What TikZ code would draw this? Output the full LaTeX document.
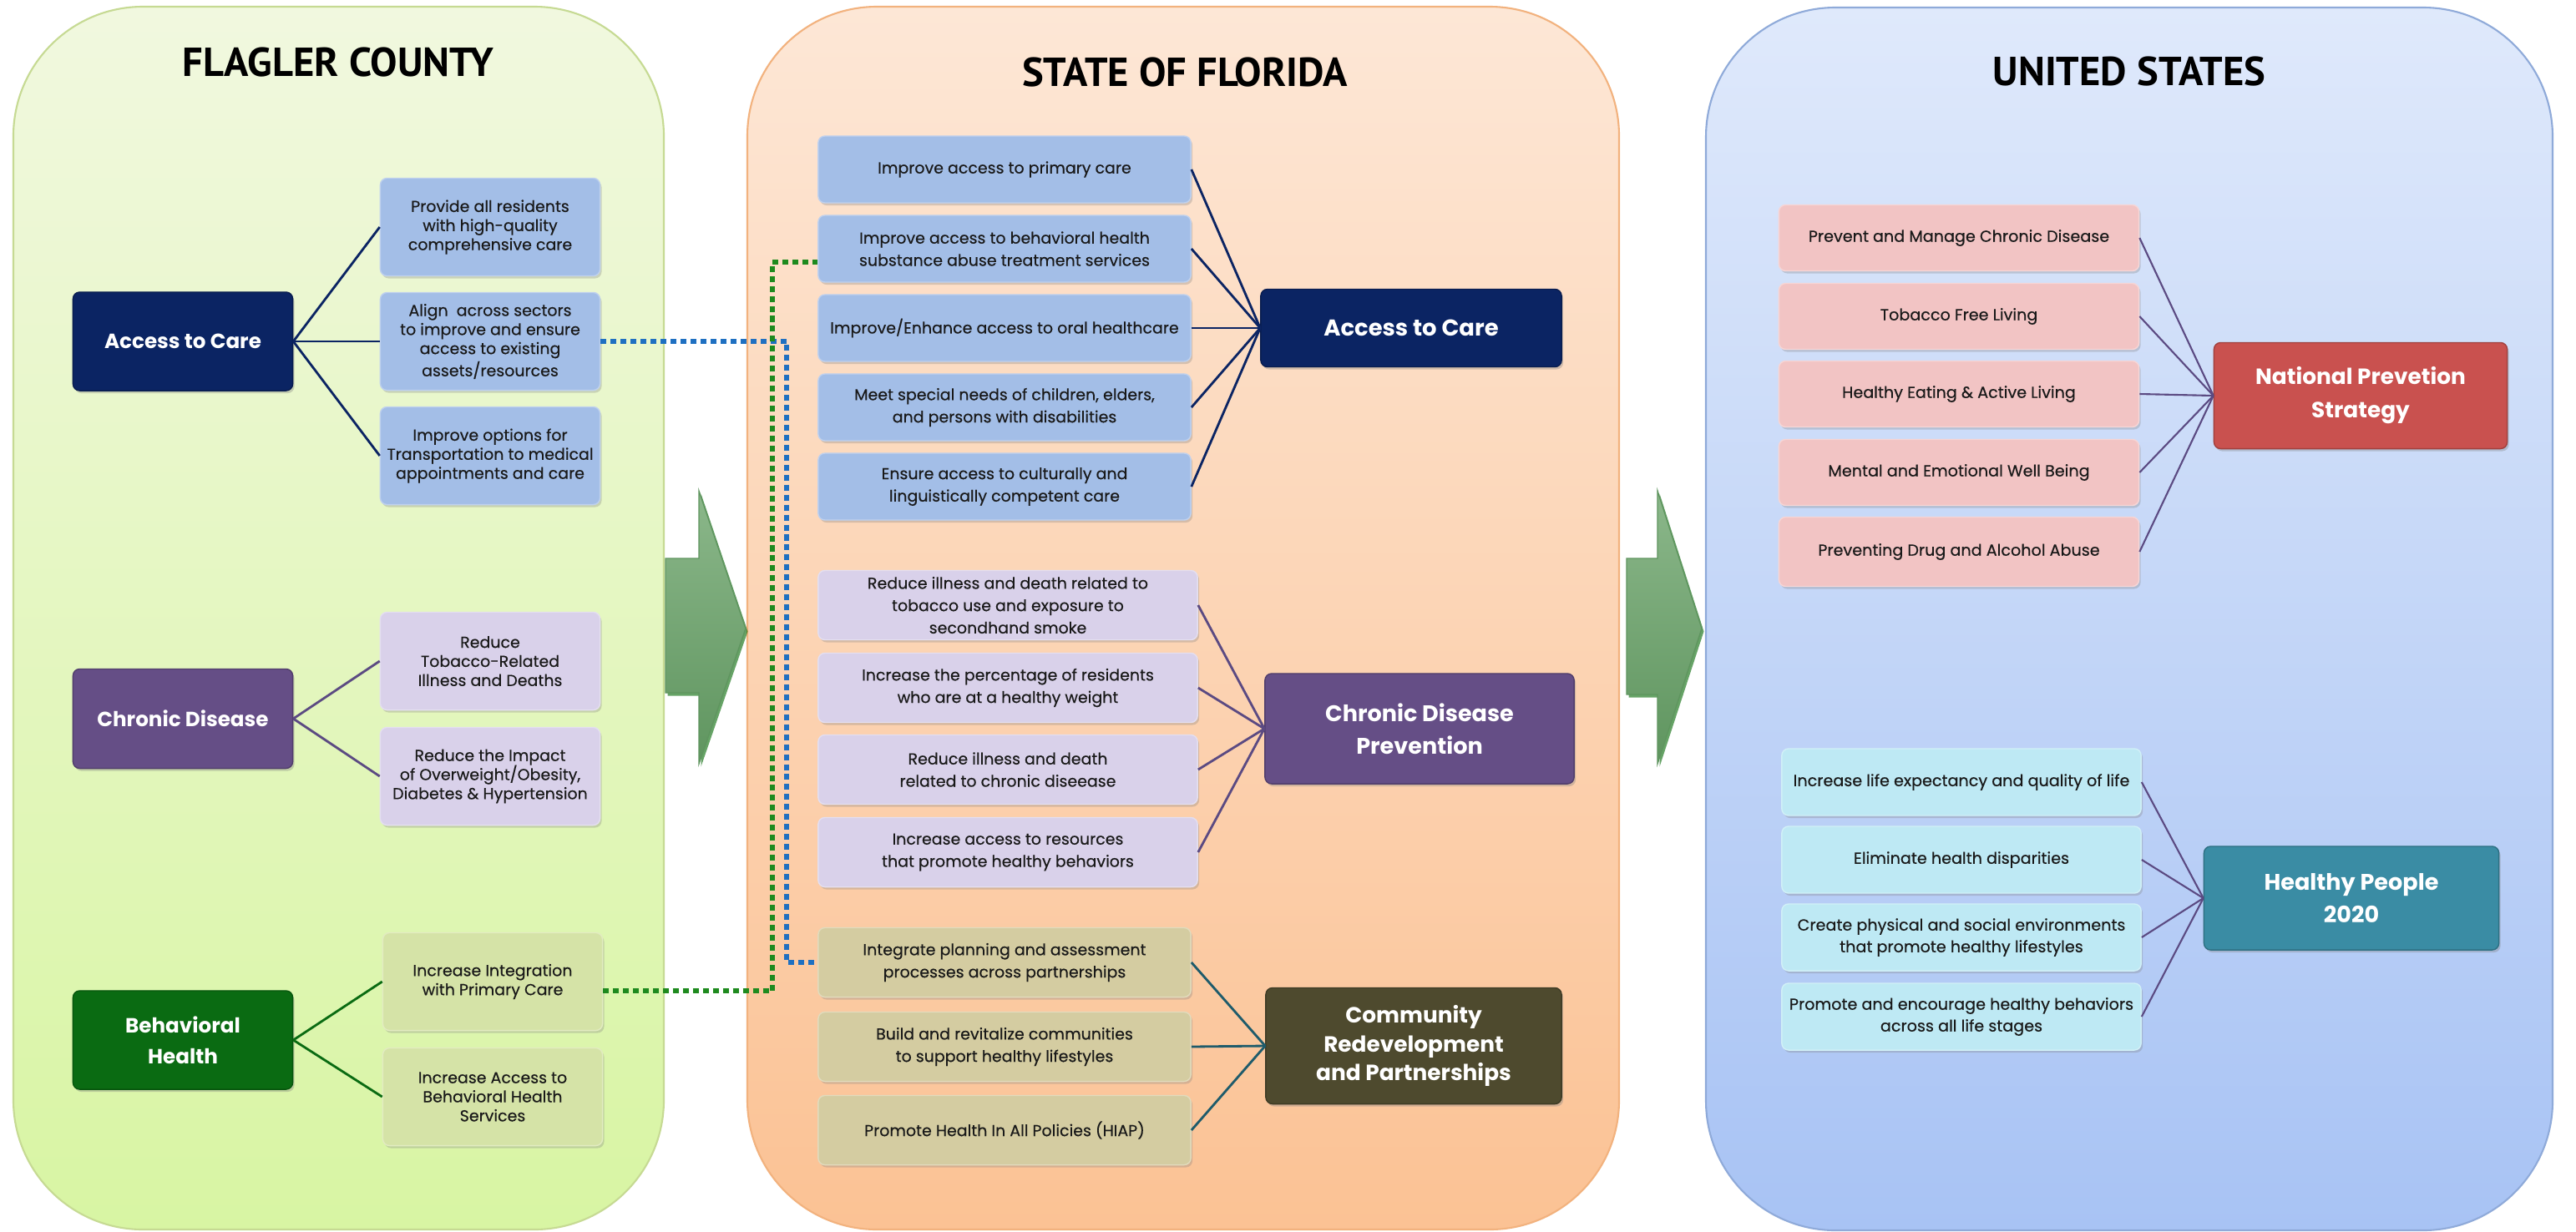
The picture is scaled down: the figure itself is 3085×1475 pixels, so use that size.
\documentclass[tikz,border=0pt]{standalone}
\usepackage{fontspec}
\setmainfont{Poppins}
\newfontfamily\titlefont{PT Sans}
\newfontfamily\boxfont{Poppins}[FakeBold=0.35]
\usetikzlibrary{shadows}

\definecolor{navybox}{HTML}{0B2463}
\definecolor{acclight}{HTML}{A3BEE7}
\definecolor{purpbox}{HTML}{654E86}
\definecolor{purplight}{HTML}{D9D1EA}
\definecolor{greenbox}{HTML}{0A6B12}
\definecolor{greenlight}{HTML}{D5E3A7}
\definecolor{olivebox}{HTML}{4E4A2E}
\definecolor{tanlight}{HTML}{D4CCA1}
\definecolor{redbox}{HTML}{C9514F}
\definecolor{pinklight}{HTML}{F2C4C4}
\definecolor{tealbox}{HTML}{3A8CA4}
\definecolor{cyanlight}{HTML}{BEE9F4}
\definecolor{purpline}{HTML}{5B4A82}
\definecolor{tealline}{HTML}{1E5B6B}
\definecolor{dotblue}{HTML}{1F70C1}
\definecolor{dotgreen}{HTML}{1E8A1E}
\definecolor{arrowlight}{HTML}{8BB78A}
\definecolor{arrowdark}{HTML}{5F955F}
\definecolor{countytop}{HTML}{F1F8DF}
\definecolor{countybot}{HTML}{D8F5A3}
\definecolor{countyrim}{HTML}{C6DA93}
\definecolor{statetop}{HTML}{FDE7D6}
\definecolor{statebot}{HTML}{FBC294}
\definecolor{staterim}{HTML}{F2B27E}
\definecolor{nationtop}{HTML}{DFE9FB}
\definecolor{nationbot}{HTML}{A8C3F4}
\definecolor{nationrim}{HTML}{8FAAD9}

\begin{document}
\begin{tikzpicture}[x=0.01cm, y=-0.01cm,
        panel/.style = {rounded corners=1.55cm, line width=0.6pt},
        title/.style = {font=\titlefont\bfseries\fontsize{13.8}{15}\selectfont},
        head/.style = {rounded corners=0.08cm, fill=#1, draw=#1!80!black, text=white,
            align=center, inner sep=0pt,
            drop shadow={shadow xshift=0.02cm, shadow yshift=-0.03cm, opacity=0.35}},
        goal/.style = {rounded corners=0.08cm, fill=#1, draw=#1!70!white, text=black!90,
            align=center, inner sep=0pt,
            drop shadow={shadow xshift=0.02cm, shadow yshift=-0.03cm, opacity=0.3}},
        county/.style = {minimum width=2.63cm, minimum height=1.17cm,
            font=\boxfont\fontsize{5.4}{6.5}\selectfont},
        state/.style = {minimum width=4.46cm, minimum height=0.8cm,
            font=\boxfont\fontsize{5.4}{7.6}\selectfont},
        nation/.style = {minimum width=4.31cm, minimum height=0.79cm,
            font=\boxfont\fontsize{5.45}{7.4}\selectfont},
        link/.style = {draw=#1, line width=0.8pt},
        dots/.style = {draw=#1, line width=1.6pt, dash pattern=on 2pt off 1.4pt},
        bigarrow/.style = {top color=arrowlight, bottom color=arrowdark, draw=arrowdark,
            drop shadow={shadow xshift=0.025cm, shadow yshift=-0.035cm,
                fill=black!60!green, opacity=0.6}}
    ]
    \useasboundingbox[fill=white] (0,0) rectangle (3085,1475);

    % panels
    \draw[panel, top color=countytop, bottom color=countybot, draw=countyrim]
        (16,8) rectangle (795,1473);
    \draw[panel, top color=statetop, bottom color=statebot, draw=staterim]
        (895,8) rectangle (1939,1473);
    \draw[panel, top color=nationtop, bottom color=nationbot, draw=nationrim]
        (2043,9) rectangle (3057,1474);

    \node[title] (tcounty) at (405,75) {FLAGLER COUNTY};
    \node[title] (tstate) at (1419,87) {STATE OF FLORIDA};
    \node[title] (tnation) at (2550,86) {UNITED STATES};

    % arrows between panels
    \path[bigarrow] (797,669) -- (837,669) -- (837,588) -- (893,753) -- (837,915)
        -- (837,830) -- (797,830) -- cycle;
    \path[bigarrow] (1948,669) -- (1985,669) -- (1985,588) -- (2038,753) -- (1985,915)
        -- (1985,832) -- (1948,832) -- cycle;

    % Flagler County
    \node[head=navybox, minimum width=2.63cm, minimum height=1.18cm,
        font=\bfseries\fontsize{7}{10.5}\selectfont] (fAccess) at (219,409) {Access to Care};
    \node[goal=acclight, county] (fA1) at (587,272) {Provide all residents\\with high-quality\\comprehensive care};
    \node[goal=acclight, county] (fA2) at (587,409) {Align\ \ across sectors\\to improve and ensure\\access to existing\\assets/resources};
    \node[goal=acclight, county] (fA3) at (587,546) {Improve options for\\Transportation to medical\\appointments and care};

    \node[head=purpbox, minimum width=2.63cm, minimum height=1.19cm,
        font=\bfseries\fontsize{7}{10.5}\selectfont] (fChronic) at (219,861) {Chronic Disease};
    \node[goal=purplight, county] (fC1) at (587,792) {Reduce\\Tobacco-Related\\Illness and Deaths};
    \node[goal=purplight, county] (fC2) at (587,930) {Reduce the Impact\\of Overweight/Obesity,\\Diabetes \& Hypertension};

    \node[head=greenbox, minimum width=2.63cm, minimum height=1.18cm,
        font=\bfseries\fontsize{7}{10.5}\selectfont] (fBehav) at (219,1246) {Behavioral\\Health};
    \node[goal=greenlight, county] (fB1) at (590,1176) {Increase Integration\\with Primary Care};
    \node[goal=greenlight, county] (fB2) at (590,1314) {Increase Access to\\Behavioral Health\\Services};

    \foreach \g in {fA1,fA2,fA3}
        \draw[link=navybox] (fAccess.east) -- (\g.west);
    \foreach \g in {fC1,fC2}
        \draw[link=purpline] (fChronic.east) -- (\g.west);
    \foreach \g in {fB1,fB2}
        \draw[link=greenbox] (fBehav.east) -- (\g.west);

    % State of Florida
    \node[goal=acclight, state] (sA1) at (1203,203) {Improve access to primary care};
    \node[goal=acclight, state] (sA2) at (1203,298) {Improve access to behavioral health\\substance abuse treatment services};
    \node[goal=acclight, state] (sA3) at (1203,393) {Improve/Enhance access to oral healthcare};
    \node[goal=acclight, state] (sA4) at (1203,488) {Meet special needs of children, elders,\\and persons with disabilities};
    \node[goal=acclight, state] (sA5) at (1203,583) {Ensure access to culturally and\\linguistically competent care};
    \node[head=navybox, minimum width=3.6cm, minimum height=0.93cm,
        font=\bfseries\fontsize{7.8}{10.5}\selectfont] (sAccess) at (1690,393) {Access to Care};

    \node[goal=purplight, state, minimum width=4.54cm, minimum height=0.83cm] (sC1) at (1207,725)
        {\fontsize{5.4}{5.7}\selectfont Reduce illness and death related to\\tobacco use and exposure to\\secondhand smoke};
    \node[goal=purplight, state, minimum width=4.54cm, minimum height=0.83cm] (sC2) at (1207,824) {Increase the percentage of residents\\who are at a healthy weight};
    \node[goal=purplight, state, minimum width=4.54cm, minimum height=0.83cm] (sC3) at (1207,922) {Reduce illness and death\\related to chronic diseease};
    \node[goal=purplight, state, minimum width=4.54cm, minimum height=0.83cm] (sC4) at (1207,1021) {Increase access to resources\\that promote healthy behaviors};
    \node[head=purpbox, minimum width=3.7cm, minimum height=1.32cm,
        font=\bfseries\fontsize{7.7}{11}\selectfont] (sChronic) at (1700,873) {Chronic Disease\\Prevention};

    \node[goal=tanlight, state, minimum height=0.83cm] (sP1) at (1203,1153) {Integrate planning and assessment\\processes across partnerships};
    \node[goal=tanlight, state, minimum height=0.83cm] (sP2) at (1203,1254) {Build and revitalize communities\\to support healthy lifestyles};
    \node[goal=tanlight, state, minimum height=0.83cm] (sP3) at (1203,1354) {Promote Health In All Policies (HIAP)};
    \node[head=olivebox, minimum width=3.54cm, minimum height=1.39cm,
        font=\bfseries\fontsize{7.5}{9.9}\selectfont] (sCommunity) at (1693,1253) {Community\\Redevelopment\\and Partnerships};

    \foreach \g in {sA1,sA2,sA3,sA4,sA5}
        \draw[link=navybox] (\g.east) -- (sAccess.west);
    \foreach \g in {sC1,sC2,sC3,sC4}
        \draw[link=purpline] (\g.east) -- (sChronic.west);
    \foreach \g in {sP1,sP2,sP3}
        \draw[link=tealline] (\g.east) -- (sCommunity.west);

    % United States
    \node[goal=pinklight, nation] (uN1) at (2346,285) {Prevent and Manage Chronic Disease};
    \node[goal=pinklight, nation] (uN2) at (2346,379) {Tobacco Free Living};
    \node[goal=pinklight, nation] (uN3) at (2346,472) {Healthy Eating \& Active Living};
    \node[goal=pinklight, nation] (uN4) at (2346,566) {Mental and Emotional Well Being};
    \node[goal=pinklight, nation, minimum height=0.83cm] (uN5) at (2346,661) {Preventing Drug and Alcohol Abuse};
    \node[head=redbox, minimum width=3.51cm, minimum height=1.27cm,
        font=\bfseries\fontsize{7.5}{11.4}\selectfont] (uNational) at (2827,474) {National Prevetion\\Strategy};

    \node[goal=cyanlight, nation, minimum width=4.3cm, minimum height=0.8cm] (uH1) at (2349,937) {Increase life expectancy and quality of life};
    \node[goal=cyanlight, nation, minimum width=4.3cm, minimum height=0.8cm] (uH2) at (2349,1030) {Eliminate health disparities};
    \node[goal=cyanlight, nation, minimum width=4.3cm, minimum height=0.8cm] (uH3) at (2349,1123) {Create physical and social environments\\that promote healthy lifestyles};
    \node[goal=cyanlight, nation, minimum width=4.3cm, minimum height=0.8cm] (uH4) at (2349,1218) {Promote and encourage healthy behaviors\\across all life stages};
    \node[head=tealbox, minimum width=3.53cm, minimum height=1.24cm,
        font=\bfseries\fontsize{7.7}{11}\selectfont] (uHealthy) at (2816,1076) {Healthy People\\2020};

    \foreach \g in {uN1,uN2,uN3,uN4,uN5}
        \draw[link=purpline, line width=0.6pt] (\g.east) -- (uNational.west);
    \foreach \g in {uH1,uH2,uH3,uH4}
        \draw[link=purpline, line width=0.6pt] (\g.east) -- (uHealthy.west);

    % cross-level links
    \draw[dots=dotblue] (fA2.east) -| ([xshift=-0.37cm]sP1.west) -- (sP1.west);
    \draw[dots=dotgreen] ([yshift=-0.11cm]fB1.east) -| ([xshift=-0.54cm,yshift=-0.16cm]sA2.west)
        -- ([yshift=-0.16cm]sA2.west);
\end{tikzpicture}
\end{document}
